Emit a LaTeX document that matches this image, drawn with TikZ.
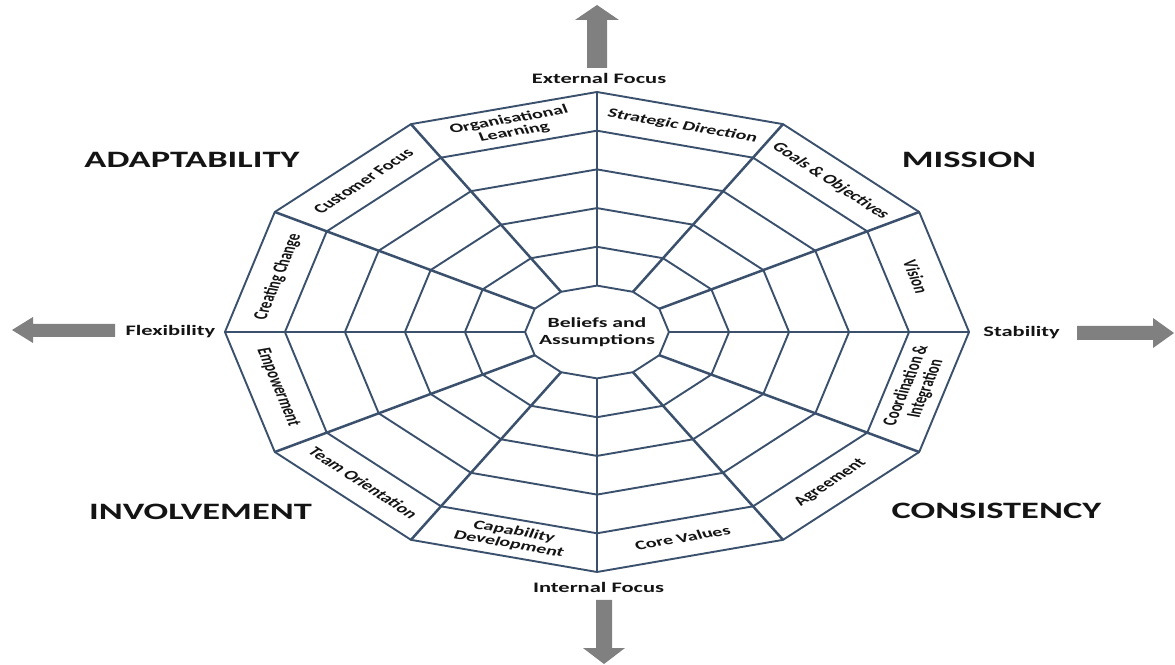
\documentclass[tikz,border=0pt]{standalone}
\usepackage{fontspec}
\setmainfont{Carlito}
\definecolor{webline}{RGB}{58,80,108}
\definecolor{arrowgrey}{RGB}{128,128,128}
\definecolor{txt}{RGB}{20,20,20}
\begin{document}
\begin{tikzpicture}[x=1pt,y=1pt,
  ring/.style={draw=webline, line width=1.9pt, line join=round},
  spoke/.style={draw=webline, line width=2.5pt},
  lab/.style={font=\bfseries\fontsize{13}{13}\selectfont, align=center, inner sep=0pt, transform shape, text=txt},
  corelab/.style={font=\bfseries\fontsize{14}{16.5}\selectfont, align=center, inner sep=0pt, transform shape, text=txt},
  title/.style={font=\bfseries\fontsize{23.5}{26}\selectfont, inner sep=0pt, transform shape, text=txt},
  axislab/.style={font=\bfseries\fontsize{14.5}{16}\selectfont, inner sep=0pt, transform shape, text=txt},
  blockarrow/.style={fill=arrowgrey, draw=none}]
\useasboundingbox (0,0) rectangle (1175,664);
\fill[white] (0,0) rectangle (1175,664);

\begin{scope}[shift={(597,332)}, xscale=1.55]
  \foreach \r/\rad in {0/240,1/201.3,2/162.6,3/123.9,4/85.2,5/46.4}{
    \foreach \k in {0,...,11}{
      \coordinate (v\r-\k) at (\k*30:\rad);
    }
  }
  % rings
  \foreach \r in {0,...,5}{
    \draw[ring] (v\r-0) -- (v\r-1) -- (v\r-2) -- (v\r-3) -- (v\r-4) -- (v\r-5) -- (v\r-6)
      -- (v\r-7) -- (v\r-8) -- (v\r-9) -- (v\r-10) -- (v\r-11) -- cycle;
  }
  % spokes
  \foreach \k in {0,...,11}{
    \draw[spoke] (v5-\k) -- (v0-\k);
  }
  % band labels
  \node[lab, rotate=-15] (sd) at (75:213.1) {Strategic Direction};
  \node[lab, rotate=-45] (go) at (45:213.1) {Goals \& Objectives};
  \node[lab, rotate=-75] (vi) at (15:213.1) {Vision};
  \node[lab, rotate=75]  (ci) at (-15:213.1) {Coordination \&\\Integration};
  \node[lab, rotate=45]  (ag) at (-45:213.1) {Agreement};
  \node[lab, rotate=15]  (cv) at (-75:213.1) {Core Values};
  \node[lab, rotate=-15] (cd) at (-105:213.1) {Capability\\Development};
  \node[lab, rotate=-45] (to) at (-135:213.1) {Team Orientation};
  \node[lab, rotate=-75] (em) at (-165:213.1) {Empowerment};
  \node[lab, rotate=75]  (cc) at (165:213.1) {Creating Change};
  \node[lab, rotate=45]  (cf) at (135:213.1) {Customer Focus};
  \node[lab, rotate=15]  (ol) at (105:213.1) {Organisational\\Learning};
  % centre
  \node[corelab] (core) at (0,0) {Beliefs and\\Assumptions};
  % quadrant titles
  \node[title] (adapt) at (-261.3,172) {ADAPTABILITY};
  \node[title] (miss)  at (240,172) {MISSION};
  \node[title] (invol) at (-255.8,-180) {INVOLVEMENT};
  \node[title] (cons)  at (257.7,-179) {CONSISTENCY};
  % axis labels
  \node[axislab] (ext)  at (1.3,254) {External Focus};
  \node[axislab] (intl) at (1,-255) {Internal Focus};
  \node[axislab] (flex) at (-275.2,0) {Flexibility};
  \node[axislab] (stab) at (273.9,-1) {Stability};
\end{scope}

% block arrows
\fill[blockarrow] (587,596) -- (587,644) -- (575,644) -- (597,659) -- (619,644) -- (607,644) -- (607,596) -- cycle;
\fill[blockarrow] (596,64) -- (596,16) -- (583,16) -- (604,0) -- (625,16) -- (612,16) -- (612,64) -- cycle;
\fill[blockarrow] (115,327) -- (33,327) -- (33,321) -- (12,334) -- (33,347) -- (33,340) -- (115,340) -- cycle;
\fill[blockarrow] (1077,324) -- (1153,324) -- (1153,316) -- (1174,331) -- (1153,346) -- (1153,338) -- (1077,338) -- cycle;
\end{tikzpicture}
\end{document}
